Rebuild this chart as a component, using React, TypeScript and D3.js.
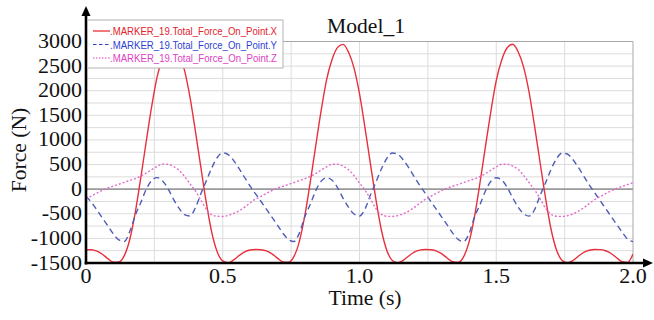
import React from "react";
import * as d3 from "d3";

const TIME = [
  0, 0.02, 0.04, 0.06, 0.08, 0.1, 0.12, 0.14, 0.16, 0.18,
  0.2, 0.22, 0.24, 0.26, 0.28, 0.3, 0.32, 0.34, 0.36, 0.38,
  0.4, 0.42, 0.44, 0.46, 0.48, 0.5, 0.52, 0.54, 0.56, 0.58,
  0.6, 0.62, 0.64, 0.66, 0.68, 0.7, 0.72, 0.74, 0.76, 0.78,
  0.8, 0.82, 0.84, 0.86, 0.88, 0.9, 0.92, 0.94, 0.96, 0.98,
  1.0, 1.02, 1.04, 1.06, 1.08, 1.1, 1.12, 1.14, 1.16, 1.18,
  1.2, 1.22, 1.24, 1.26, 1.28, 1.3, 1.32, 1.34, 1.36, 1.38,
  1.4, 1.42, 1.44, 1.46, 1.48, 1.5, 1.52, 1.54, 1.56, 1.58,
  1.6, 1.62, 1.64, 1.66, 1.68, 1.7, 1.72, 1.74, 1.76, 1.78,
  1.8, 1.82, 1.84, 1.86, 1.88, 1.9, 1.92, 1.94, 1.96, 1.98,
  2.0,
];

const FORCE_X = [
  -1230, -1231, -1259, -1323, -1412, -1485, -1481, -1350, -1023, -476,
  220, 960, 1675, 2282, 2672, 2896, 2933, 2756, 2420, 1876,
  1178, 441, -277, -882, -1275, -1458, -1492, -1437, -1348, -1274,
  -1237, -1226, -1230, -1255, -1315, -1402, -1478, -1485, -1370, -1065,
  -540, 145, 885, 1605, 2230, 2640, 2880, 2942, 2780, 2460,
  1940, 1250, 515, -208, -830, -1245, -1448, -1493, -1445, -1357,
  -1280, -1239, -1227, -1230, -1253, -1311, -1398, -1475, -1487, -1380,
  -1086, -572, 110, 848, 1570, 2204, 2624, 2872, 2944, 2792,
  2480, 1972, 1285, 552, -173, -804, -1230, -1442, -1493, -1449,
  -1362, -1283, -1240, -1227, -1229, -1251, -1307, -1394, -1472, -1488,
  -1320,
];

const FORCE_Y = [
  -150, -266, -426, -586, -746, -909, -1031, -1062, -861, -536,
  -275, -6, 175, 234, 168, 9, -207, -386, -515, -544,
  -379, -92, 168, 434, 643, 737, 702, 581, 417, 237,
  64, -96, -250, -410, -570, -730, -895, -1022, -1064, -895,
  -560, -305, -30, 163, 233, 180, 28, -185, -370, -505,
  -546, -405, -120, 140, 410, 625, 734, 710, 595, 435,
  255, 80, -80, -242, -402, -562, -722, -888, -1018, -1065,
  -912, -572, -320, -42, 156, 232, 186, 37, -174, -362,
  -500, -547, -418, -134, 126, 398, 616, 732, 714, 602,
  444, 264, 88, -72, -234, -394, -554, -714, -871, -1014,
  -1066,
];

const FORCE_Z = [
  -195, -139, -79, -22, 24, 62, 99, 139, 177, 216,
  264, 325, 395, 461, 510, 504, 462, 385, 261, 111,
  -36, -220, -410, -520, -551, -554, -533, -494, -438, -365,
  -280, -200, -145, -85, -27, 20, 59, 95, 135, 174,
  211, 259, 317, 387, 455, 507, 506, 468, 395, 275,
  125, -20, -200, -393, -513, -550, -554, -537, -500, -445,
  -373, -289, -208, -148, -88, -30, 18, 57, 93, 133,
  172, 209, 256, 314, 384, 452, 506, 507, 470, 400,
  282, 132, -12, -190, -385, -510, -550, -554, -539, -503,
  -448, -378, -293, -212, -151, -91, -33, 16, 55, 91,
  131,
];

const SERIES_NAMES = [
  ".MARKER_19.Total_Force_On_Point.X",
  ".MARKER_19.Total_Force_On_Point.Y",
  ".MARKER_19.Total_Force_On_Point.Z",
];
const X_TICKS = [0, 0.5, 1.0, 1.5, 2.0];
const X_TICK_LABELS = ["0", "0.5", "1.0", "1.5", "2.0"];
const Y_TICKS = [-1500, -1000, -500, 0, 500, 1000, 1500, 2000, 2500, 3000];
const X_GRID = [0.25, 0.5, 0.75, 1.0, 1.25, 1.5, 1.75];
const Y_GRID = [
  -1250, -1000, -750, -500, -250, 250, 500, 750, 1000, 1250, 1500, 1750, 2000, 2250, 2500, 2750,
];

const SERIF = "'Liberation Serif', 'Times New Roman', serif";
const SANS = "'Liberation Sans', Arial, sans-serif";

function SText(props: {
  x: number;
  y: number;
  sx?: number;
  anchor?: string;
  size?: number;
  rotate?: number;
  children: React.ReactNode;
}) {
  const { x, y, sx = 1.1, anchor = "middle", size = 20, rotate = 0, children } = props;
  return (
    <text
      transform={`translate(${x},${y}) rotate(${rotate}) scale(${sx},1)`}
      textAnchor={anchor}
      fontFamily={SERIF}
      fontSize={size}
      fill="#111"
    >
      {children}
    </text>
  );
}

export default function App() {
  const W = 654;
  const H = 320;
  const x = d3.scaleLinear().domain([0, 2]).range([86, 633]);
  const y = d3.scaleLinear().domain([-1500, 3000]).range([263, 41.5]);

  const mk = (vals: number[]) =>
    d3
      .line<number>()
      .x((_, i) => x(TIME[i]))
      .y((v) => y(v))
      .curve(d3.curveMonotoneX)(vals) || "";

  const series = [
    { vals: FORCE_X, color: "#e8303c", dash: undefined as string | undefined, text: "#e3222c" },
    { vals: FORCE_Y, color: "#4f5cb8", dash: "6,4", text: "#2e3fd4" },
    { vals: FORCE_Z, color: "#e36ccb", dash: "2,2", text: "#e040c4" },
  ];

  const legendRows = [35, 48.5, 62];

  return (
    <svg
      width={W}
      height={H}
      style={{ position: "absolute", left: 0, top: 0, background: "#fff" }}
    >
      <defs>
        <clipPath id="plotClip">
          <rect x={86} y={41.5} width={547} height={221.5} />
        </clipPath>
      </defs>
      <rect x={0} y={0} width={W} height={H} fill="#fff" />
      {/* grid */}
      {Y_GRID.map((v) => (
        <line key={"gy" + v} x1={86} x2={633} y1={y(v)} y2={y(v)} stroke="#dcdcdc" strokeWidth={1} />
      ))}
      {X_GRID.map((v) => (
        <line key={"gx" + v} x1={x(v)} x2={x(v)} y1={41.5} y2={263} stroke="#dcdcdc" strokeWidth={1} />
      ))}
      {/* plot border */}
      <line x1={86} x2={633} y1={41.5} y2={41.5} stroke="#a8a8a8" strokeWidth={1} />
      <line x1={633} x2={633} y1={41.5} y2={263} stroke="#a8a8a8" strokeWidth={1} />
      {/* zero line */}
      <line x1={86} x2={633} y1={y(0)} y2={y(0)} stroke="#9a9a9a" strokeWidth={1.6} />
      {/* series */}
      <g clipPath="url(#plotClip)">
        {series.map((s, i) => (
          <path
            key={i}
            d={mk(s.vals)}
            fill="none"
            stroke={s.color}
            strokeWidth={1.4}
            strokeDasharray={s.dash}
          />
        ))}
      </g>
      {/* axes */}
      <line x1={86} x2={86} y1={264.5} y2={14} stroke="#000" strokeWidth={2.6} />
      <polygon points="86,6 81.5,16 90.5,16" fill="#000" />
      <line x1={84.7} x2={645} y1={263} y2={263} stroke="#000" strokeWidth={2.6} />
      <polygon points="653,263 643,258.5 643,267.5" fill="#000" />
      {/* y tick labels */}
      {Y_TICKS.map((v) => (
        <SText key={"yl" + v} x={82} y={y(v) + 6.5} anchor="end">
          {String(v)}
        </SText>
      ))}
      {/* x tick labels */}
      {X_TICKS.map((v, i) => (
        <SText key={"xl" + v} x={x(v)} y={283}>
          {X_TICK_LABELS[i]}
        </SText>
      ))}
      {/* titles */}
      <SText x={366} y={33} sx={1.08}>
        Model_1
      </SText>
      <SText x={365} y={305} sx={1.08}>
        Time (s)
      </SText>
      <SText x={26} y={150} sx={1.08} rotate={-90}>
        Force (N)
      </SText>
      {/* legend */}
      <rect x={87.5} y={20} width={195.5} height={48} fill="#fff" stroke="#b4b4b4" strokeWidth={1} />
      {series.map((s, i) => (
        <g key={"lg" + i}>
          <line
            x1={93}
            x2={110}
            y1={legendRows[i] - 4}
            y2={legendRows[i] - 4}
            stroke={s.text}
            strokeWidth={1.2}
            strokeDasharray={i === 1 ? "3.5,2.5" : i === 2 ? "1.5,1.5" : undefined}
          />
          <text
            x={110}
            y={legendRows[i]}
            fontFamily={SANS}
            fontSize={11.5}
            fill={s.text}
            textLength={167}
            lengthAdjust="spacingAndGlyphs"
          >
            {SERIES_NAMES[i]}
          </text>
        </g>
      ))}
    </svg>
  );
}
